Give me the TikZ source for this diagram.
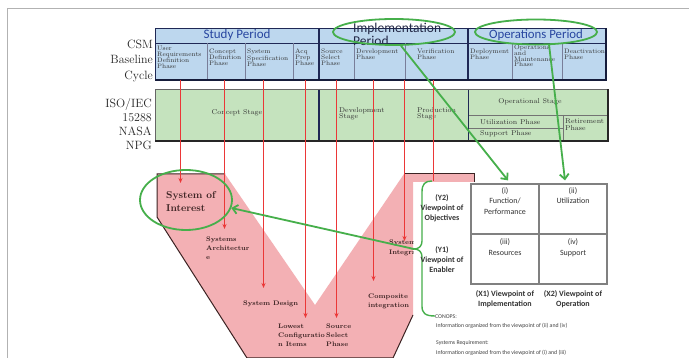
\documentclass[tikz,border=0pt]{standalone}
\usepackage{fontspec}
\newfontfamily\calib{Carlito}
\usetikzlibrary{arrows.meta,shapes.geometric}
\definecolor{bluefill}{RGB}{189,215,238}
\definecolor{greenfill}{RGB}{197,227,190}
\definecolor{pinkfill}{RGB}{243,176,180}
\definecolor{navy}{RGB}{31,40,85}
\definecolor{hdrblue}{RGB}{40,70,160}
\definecolor{impcol}{RGB}{35,40,70}
\definecolor{vgreen}{RGB}{70,175,75}
\definecolor{vred}{RGB}{235,55,55}
\definecolor{vdark}{RGB}{60,35,35}
\begin{document}
\begin{tikzpicture}[x=1pt,y=-1pt,
  ph/.style={anchor=north west, inner sep=0pt, align=left, font=\fontsize{6.5}{5.9}\selectfont, text=black!80},
  stg/.style={inner sep=0pt, align=left, font=\fontsize{7}{6.5}\selectfont, text=black!80},
  sidelbl/.style={anchor=east, inner sep=0pt, align=right, text=black!85},
  hdr/.style={inner sep=0pt, font=\calib\fontsize{13}{13}\selectfont, text=hdrblue},
  vlab/.style={anchor=north west, inner sep=0pt, align=left, font=\bfseries\fontsize{6.6}{9}\selectfont, text=vdark},
  ctext/.style={inner sep=0pt, align=center, font=\calib\fontsize{8}{10.5}\selectfont, text=black!80},
  btext/.style={inner sep=0pt, align=center, font=\calib\bfseries\fontsize{8}{10}\selectfont, text=black!80},
  smalltxt/.style={anchor=west, inner sep=0pt, font=\calib\fontsize{5.8}{7}\selectfont, text=black!75},
  redarr/.style={draw=vred, line width=1.3pt, -{Stealth[length=5pt,width=4pt]}},
  redline/.style={draw=vred, line width=1.3pt},
  gline/.style={draw=vgreen, line width=1.4pt},
  garr/.style={draw=vgreen, line width=1.8pt, -{Straight Barb[length=5pt,width=9pt]}},
  gell/.style={ellipse, draw=vgreen, line width=1.8pt, inner sep=0pt},
  cellbox/.style={draw=black!50, line width=1.2pt, minimum width=68pt, minimum height=50pt, inner sep=0pt},
]
\useasboundingbox (0,0) rectangle (689,358);
\fill[white] (0,0) rectangle (689,358);
\draw[black!30, line width=1pt] (7,358) -- (7,9) -- (689,9);

% ---------- blue table ----------
\fill[bluefill] (155,28) rectangle (606,80);
\draw[navy, line width=0.7pt] (155,43) -- (606,43);
\foreach \x in {207,245,293,354,405,512,562} \draw[navy!60, line width=0.5pt] (\x,43) -- (\x,80);
\draw[navy, line width=1.3pt] (319,28) -- (319,80) (468,28) -- (468,80);
\draw[navy, line width=0.7pt] (155,80) -- (155,28) -- (606,28);
\draw[navy!70!black, line width=1.8pt] (155,80) -- (606,80) -- (606,28);

\node[hdr] (studyHdr) at (237,35) {Study Period};
\node[hdr, text=impcol, anchor=north west, align=left, font=\calib\fontsize{13.5}{13}\selectfont] (implHdr) at (353,23) {Implementation\\Period};
\node[hdr, font=\calib\fontsize{12.8}{13}\selectfont] (opsHdr) at (536,35) {Operations Period};

\node[ph] (pUser) at (157,46) {User\\Requirements\\Definition\\Phase};
\node[ph] (pConc) at (209,49) {Concept\\Definition\\Phase};
\node[ph] (pSpec) at (247,49) {System\\Specification\\Phase};
\node[ph] (pAcq) at (295,49) {Acq\\Prep\\Phase};
\node[ph] (pSrc) at (321,49) {Source\\Select\\Phase};
\node[ph] (pDev) at (356,49) {Development\\Phase};
\node[ph] (pVer) at (417,49) {Verification\\Phase};
\node[ph] (pDep) at (470,49) {Deployment\\Phase};
\node[ph] (pOM) at (514,44.5) {Operations\\and\\Maintenance\\Phase};
\node[ph] (pDeac) at (564,49) {Deactivation\\Phase};

\node[sidelbl, font=\fontsize{12}{15.5}\selectfont] (csmLbl) at (153,61) {CSM\\Baseline\\Cycle};

% ---------- green table ----------
\fill[greenfill] (155,89) rectangle (608,141);
\draw[black!55, line width=0.6pt] (468,115) -- (608,115) (468,128) -- (563,128) (563,115) -- (563,141);
\draw[navy, line width=1.3pt] (319,89) -- (319,141);
\draw[navy, line width=1pt] (468,89) -- (468,141);
\draw[black!60, line width=0.6pt] (155,141) -- (155,89) -- (608,89);
\draw[black!85, line width=1.8pt] (155,141) -- (608,141) -- (608,89);

\node[stg] (sConc) at (237,113) {Concept Stage};
\node[stg, anchor=north west] (sDev) at (339,107) {Development\\Stage};
\node[stg, anchor=north west] (sProd) at (417,107) {Production\\Stage};
\node[stg] (sOp) at (530,102) {Operational Stage};
\node[stg, anchor=west] (sUtil) at (480,122) {Utilization Phase};
\node[stg, anchor=west] (sSup) at (480,134) {Support Phase};
\node[stg, anchor=north west] (sRet) at (565,119) {Retirement\\Phase};

\node[sidelbl, font=\fontsize{12}{14}\selectfont] (isoLbl) at (152,124) {ISO/IEC\\15288\\NASA\\NPG};

% ---------- V shape ----------
\fill[pinkfill] (157,174) -- (225,174) -- (315,305) -- (404,174) -- (474,174) -- (474,182)
  -- (413,182) -- (413,315) -- (393,358) -- (247,358) -- (157,217) -- cycle;
\draw[vdark, line width=1pt] (225,174) -- (157,174) -- (157,217) -- (247,358) -- (393,358) -- (413,315);
\draw[vdark, line width=1pt] (404,174) -- (474,174) -- (474,182);

% ---------- V labels ----------
\node[anchor=north west, inner sep=0pt, align=left, font=\bfseries\fontsize{10}{13}\selectfont, text=vdark] (soiTxt) at (166,191) {System of\\Interest};
\node[vlab] (archTxt) at (206,236.5) {Systems\\Architectur\\e};
\node[vlab, anchor=west] (desTxt) at (243,304) {System Design};
\node[vlab] (lciTxt) at (278,324) {Lowest\\Configuratio\\n Items};
\node[vlab] (sspTxt) at (326,324) {Source\\Select\\Phase};
\node[vlab] (compTxt) at (368,294) {Composite\\integration};
\begin{scope}
\clip (380,230) rectangle (413,265);
\node[vlab, font=\bfseries\fontsize{6.6}{10}\selectfont] (sintTxt) at (389,239.5) {System\\Integration};
\end{scope}

% ---------- red arrows ----------
\coordinate (r1s) at (180.5,80);  \coordinate (r1e) at (180.5,183);
\coordinate (r2s) at (224.5,80);  \coordinate (r2e) at (224.5,229);
\coordinate (r3s) at (263.5,80);  \coordinate (r3e) at (263.5,288);
\coordinate (r4s) at (305.5,80);  \coordinate (r4e) at (305.5,318);
\coordinate (r5s) at (336.5,80);  \coordinate (r5e) at (336.5,318);
\coordinate (r6s) at (373.5,80);  \coordinate (r6e) at (373.5,281);
\coordinate (r7s) at (404.5,80);  \coordinate (r7e) at (404.5,241);
\coordinate (r8s) at (433.5,80);  \coordinate (r8e) at (433.5,181);
\draw[redarr] (r1s) -- (r1e);
\draw[redarr] (r2s) -- (r2e);
\draw[redarr] (r3s) -- (r3e);
\draw[redarr] (r4s) -- (r4e);
\draw[redarr] (r5s) -- (r5e);
\draw[redarr] (r6s) -- (r6e);
\draw[redarr] (r7s) -- (r7e);
\draw[redline] (r8s) -- (r8e);

% ---------- brace and its labels ----------
\coordinate (braceTip) at (414,249);
\draw[gline] (432,181) .. controls (425,181) and (422,184) .. (422,192) -- (422,241)
  .. controls (422,246) and (419,249) .. (braceTip)
  .. controls (419,249) and (422,252) .. (422,257) -- (422,306)
  .. controls (422,313) and (425,316) .. (435,316);
\node[btext] (y2Txt) at (442,208.5) {(Y2)\\Viewpoint of\\Objectives};
\node[btext] (y1Txt) at (442,259.5) {(Y1)\\Viewpoint of\\Enabler};

% ---------- grid ----------
\node[cellbox] (cellA) at (505,209) {};
\node[cellbox] (cellB) at (573,209) {};
\node[cellbox] (cellC) at (505,259) {};
\node[cellbox] (cellD) at (573,259) {};
\node[ctext, anchor=north] (tA) at (505,187) {(i)\\Function/\\Performance};
\node[ctext, anchor=north] (tB) at (573,187) {(ii)\\Utilization};
\node[ctext, anchor=north] (tC) at (505,238.5) {(iii)\\Resources};
\node[ctext, anchor=north] (tD) at (573,238.5) {(iv)\\Support};
\node[btext, anchor=north] (x1Txt) at (505,290.5) {(X1) Viewpoint of\\Implementation};
\node[btext, anchor=north] (x2Txt) at (573,290.5) {(X2) Viewpoint of\\Operation};

\node[smalltxt] (conops) at (435,317) {CONOPS:};
\node[smalltxt] (conopsI) at (436,326) {Information organized from the viewpoint of (ii) and (iv)};
\node[smalltxt] (sysreq) at (436,343) {Systems Requirement:};
\node[smalltxt] (sysreqI) at (436,353) {Information organized from the viewpoint of (i) and (iii)};

% ---------- green ellipses and arrows ----------
\node[gell, minimum width=122pt, minimum height=26pt] (implEll) at (394,32) {};
\node[gell, minimum width=122pt, minimum height=25pt] (opsEll) at (536,32) {};
\node[gell, minimum width=92pt, minimum height=60pt] (soiEll) at (186,200) {};

\draw[garr] (implEll.-63) -- ([xshift=3pt,yshift=3pt]cellA.north);
\draw[garr] (opsEll.-45) -- ([xshift=-8pt,yshift=3pt]cellB.north);
\draw[garr] (braceTip) -- (soiEll.-10);
\end{tikzpicture}
\end{document}
